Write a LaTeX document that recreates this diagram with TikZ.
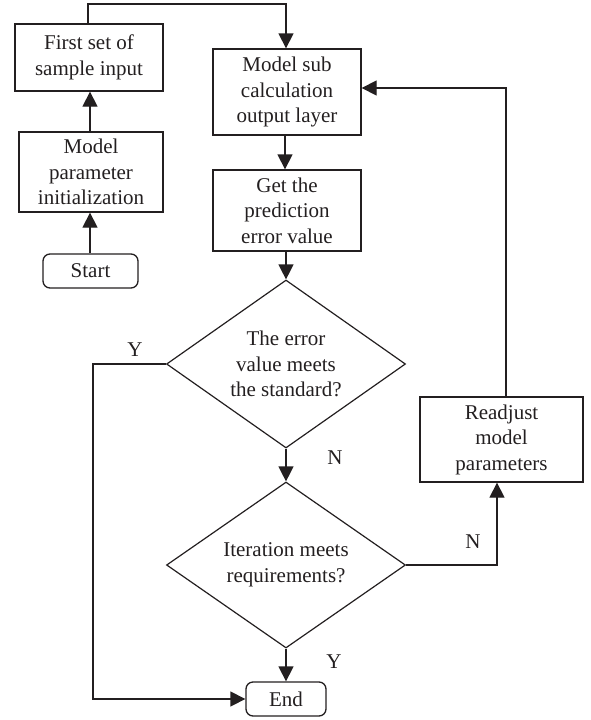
\documentclass[tikz,border=0pt]{standalone}
\usepackage{fontspec}
\setmainfont{Liberation Serif}
\usetikzlibrary{shapes.geometric,arrows.meta}
\definecolor{ink}{HTML}{231F20}
\begin{document}
\begin{tikzpicture}[x=1pt,y=-1pt,
  every node/.style={text=ink,font=\fontsize{21}{25.5}\selectfont},
  box/.style={draw=ink,line width=1.3pt,rectangle,align=center,inner sep=0pt},
  term/.style={box,rounded corners=7pt},
  dia/.style={draw=ink,line width=1.2pt,diamond,align=center,inner sep=0pt,aspect=1.43},
  conn/.style={draw=ink,line width=1.3pt},
  arr/.style={conn,-{Triangle[length=15pt,width=15pt]}},
  lab/.style={font=\fontsize{21}{24}\selectfont}]
\useasboundingbox (0,0) rectangle (591,720);
\node[box,minimum width=148pt,minimum height=67pt] (first) at (89,57.5) {First set of\\sample input};
\node[box,minimum width=144pt,minimum height=80pt] (init) at (91,172) {Model\\parameter\\initialization};
\node[term,minimum width=95pt,minimum height=34pt] (start) at (90.5,271) {Start};
\node[box,minimum width=148pt,minimum height=86pt] (msub) at (287,92) {Model sub\\calculation\\output layer};
\node[box,minimum width=148pt,minimum height=81pt] (pred) at (287,210.5) {Get the\\prediction\\error value};
\node[dia,minimum width=239pt,minimum height=168pt] (d1) at (286,364) {The error\\value meets\\the standard?};
\node[dia,minimum width=239pt,minimum height=166pt] (d2) at (286,565) {Iteration meets\\requirements?};
\node[term,minimum width=80pt,minimum height=34pt] (end) at (286,699) {End};
\node[box,minimum width=163pt,minimum height=85pt] (readj) at (501.5,439.5) {Readjust\\model\\parameters};
\coordinate (t1) at (88,4);
\coordinate (t2) at (286,4);
\coordinate (la) at (90,0);
\coordinate (yl) at (93,364);
\coordinate (yb) at (93,699);
\coordinate (nr) at (497,565);
\coordinate (rt) at (506,88);
\draw[arr] (start.north -| la) -- (init.south -| la);
\draw[arr] (init.north -| la) -- (first.south -| la);
\draw[arr] (first.north -| t1) -- (t1) -- (t2) -- (msub.north -| t2);
\draw[arr] (msub.south -| 285,0) -- (pred.north -| 285,0);
\draw[arr] (pred.south -| d1.north) -- (d1.north);
\draw[arr] (d1.south) -- (d2.north);
\draw[arr] (d2.south) -- (end.north);
\draw[arr] (d1.west) -- (yl) -- (yb) -- (end.west);
\draw[arr] (d2.east) -- (nr) -- (readj.south -| nr);
\draw[arr] (readj.north -| rt) -- (rt) -- (msub.east |- rt);
\node[lab] (ly1) at (135,350) {Y};
\node[lab] (ln1) at (335,458) {N};
\node[lab] (ly2) at (334,662) {Y};
\node[lab] (ln2) at (473,542) {N};
\end{tikzpicture}
\end{document}
